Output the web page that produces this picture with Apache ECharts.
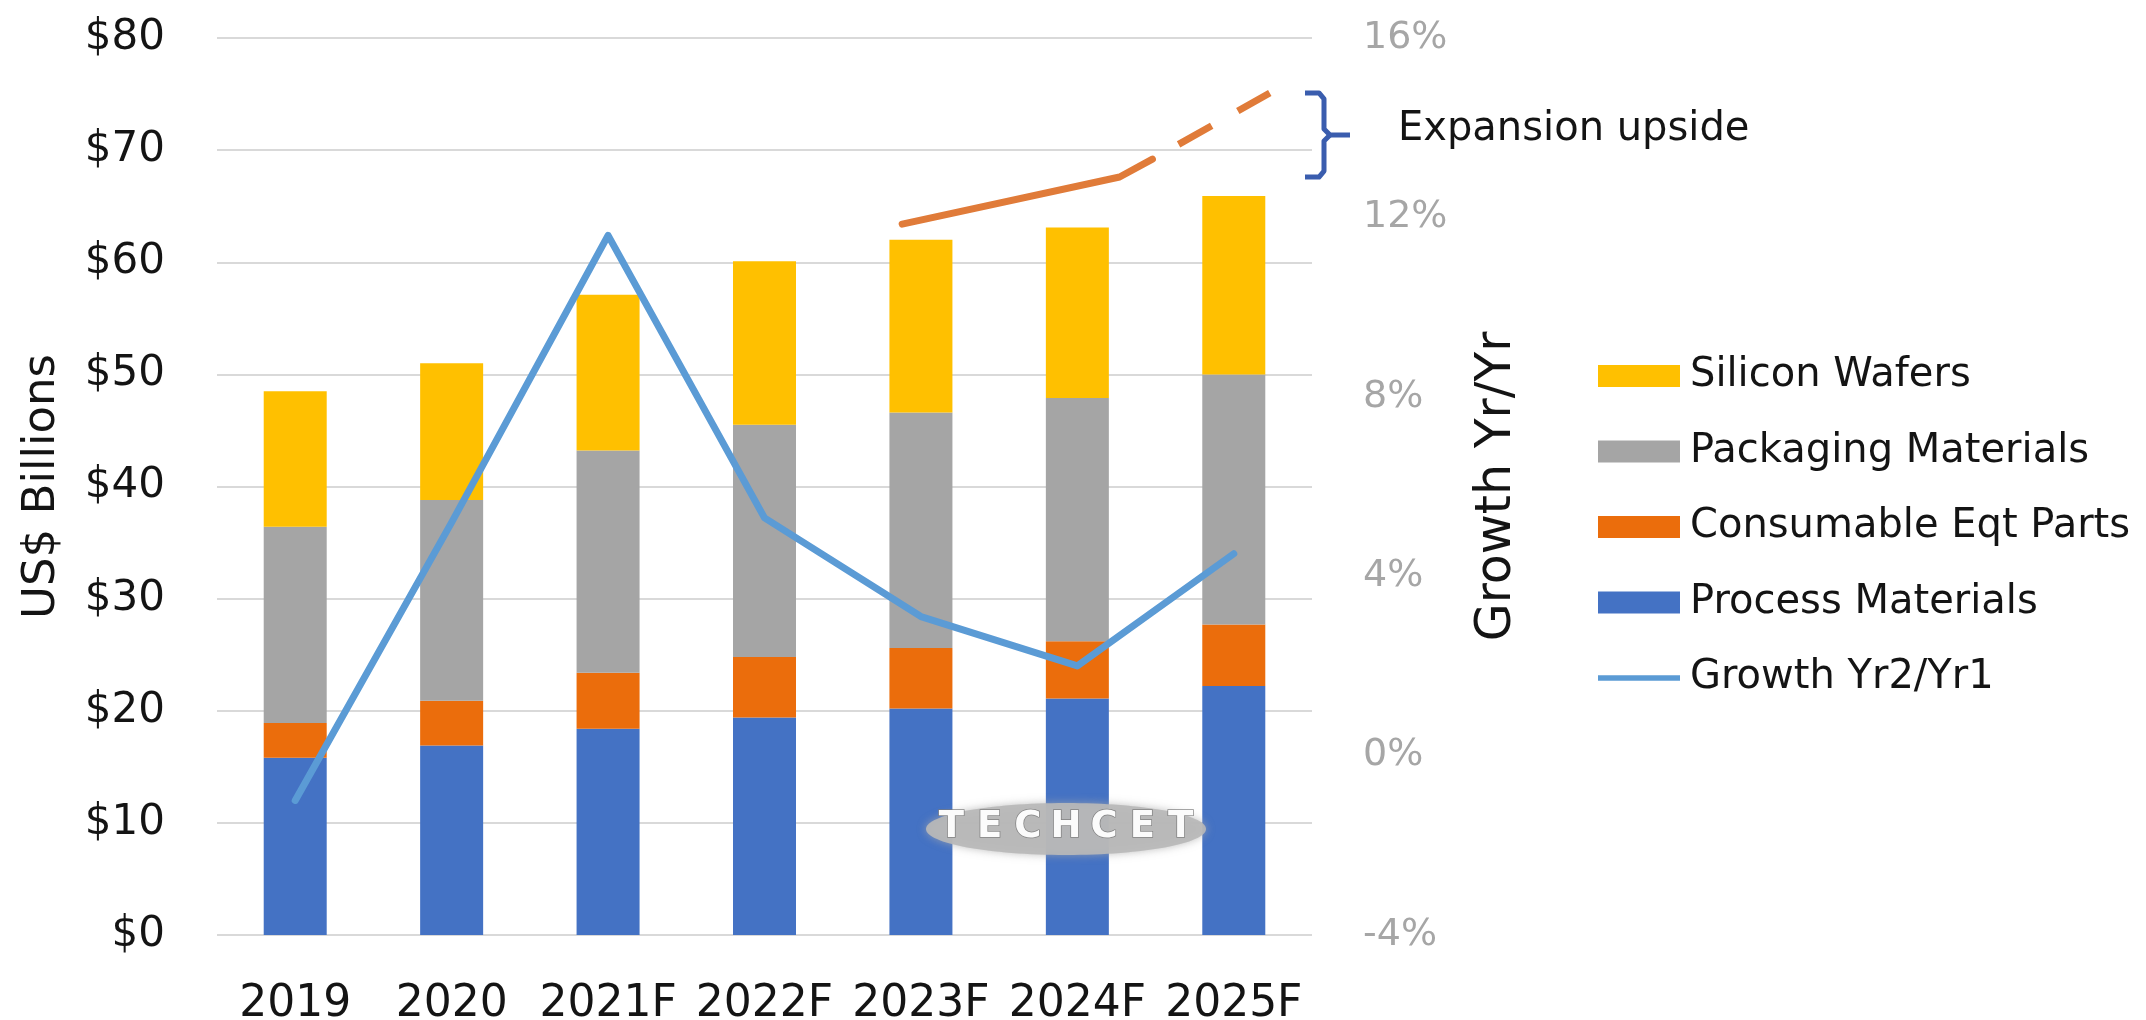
<!DOCTYPE html>
<html>
<head>
<meta charset="utf-8">
<title>Semiconductor Materials Market</title>
<script src="https://cdn.jsdelivr.net/npm/echarts@6/dist/echarts.min.js"></script>
<style>
  html, body { margin: 0; padding: 0; background: #ffffff; }
  #chart { width: 2146px; height: 1020px; }
</style>
</head>
<body>
<div id="chart"></div>
<script>
// Market segments, US$ billions per year (stacked bottom to top)
const years = ['2019', '2020', '2021F', '2022F', '2023F', '2024F', '2025F'];
const processMaterials   = [15.8, 16.9, 18.4, 19.4, 20.2, 21.1, 22.2];
const consumableParts    = [3.1, 4.0, 5.0, 5.4, 5.4, 5.1, 5.5];
const packagingMaterials = [17.5, 17.9, 19.8, 20.7, 21.0, 21.7, 22.3];
const siliconWafers      = [12.1, 12.2, 13.9, 14.6, 15.4, 15.2, 15.9];

// Year-over-year growth, percent (right axis)
const growthPct = [-1.0, 5.2, 11.6, 5.3, 3.1, 2.0, 4.5];

// Expansion upside outlook: [category position, US$ billions]
const upsideBase    = [[3.88, 63.4], [5.27, 67.6], [5.48, 69.2]];
const upsideStretch = [[5.48, 69.2], [6.23, 75.1]];

const legendNames = ['Silicon Wafers', 'Packaging Materials', 'Consumable Eqt Parts', 'Process Materials', 'Growth Yr2/Yr1'];

const FONT = '"DejaVu Sans", "Liberation Sans", sans-serif';
const GRID = { left: 217, right: 834, top: 38, bottom: 85 };
const plotRight = 2146 - GRID.right;

const chart = echarts.init(document.getElementById('chart'), null, { renderer: 'canvas' });

const barSeries = (name, data, color) => ({
  name, type: 'bar', stack: 'total', data,
  barWidth: 63,
  xAxisIndex: 0, yAxisIndex: 0,
  itemStyle: { color },
  emphasis: { disabled: true }
});

// thick line swatch for the growth entry in the legend
const lineIcon = 'path://M0,0 L100,0 L100,7 L0,7 Z';

const option = {
  animation: false,
  backgroundColor: '#ffffff',
  textStyle: { fontFamily: FONT },
  grid: Object.assign({ containLabel: false, outerBoundsMode: 'none' }, GRID),
  legend: {
    orient: 'vertical',
    left: 1593,
    top: 349,
    itemWidth: 82,
    itemHeight: 22,
    itemGap: 31.5,
    selectedMode: false,
    textStyle: { fontSize: 40, lineHeight: 44, color: '#141414', fontFamily: FONT, padding: [0, 0, 0, 5] },
    data: legendNames.map((n, i) => (i < 4 ? { name: n, icon: 'rect' } : { name: n, icon: lineIcon }))
  },
  xAxis: [
    {
      type: 'category',
      data: years,
      axisLine: { show: false },
      axisTick: { show: false },
      axisLabel: { interval: 0, fontSize: 44, color: '#141414', margin: 48, fontFamily: FONT }
    },
    { type: 'value', min: -0.5, max: 6.5, show: false }
  ],
  yAxis: [
    {
      type: 'value',
      min: 0, max: 80, interval: 10,
      name: 'US$ Billions',
      nameLocation: 'middle',
      nameGap: 152,
      nameRotate: 90,
      nameMoveOverlap: false,
      nameTextStyle: { fontSize: 45, color: '#141414', fontFamily: FONT },
      axisLine: { show: false },
      axisTick: { show: false },
      axisLabel: { formatter: v => '$' + v, fontSize: 42, color: '#141414', margin: 52, fontFamily: FONT },
      splitLine: { show: true, lineStyle: { color: '#d9d9d9', width: 2 } }
    },
    {
      type: 'value',
      position: 'right',
      min: -4, max: 16, interval: 4,
      name: 'Growth Yr/Yr',
      nameLocation: 'middle',
      nameGap: 161,
      nameRotate: 90,
      nameMoveOverlap: false,
      nameTextStyle: { fontSize: 49, color: '#141414', fontFamily: FONT },
      axisLine: { show: false },
      axisTick: { show: false },
      axisLabel: { formatter: v => v + '%', fontSize: 38, color: '#a6a6a6', margin: 51, fontFamily: FONT },
      splitLine: { show: false }
    }
  ],
  series: [
    barSeries('Process Materials', processMaterials, '#4472C4'),
    barSeries('Consumable Eqt Parts', consumableParts, '#EB6D0C'),
    barSeries('Packaging Materials', packagingMaterials, '#A5A5A5'),
    barSeries('Silicon Wafers', siliconWafers, '#FFC000'),
    {
      name: 'Growth Yr2/Yr1', type: 'line', data: growthPct,
      xAxisIndex: 0, yAxisIndex: 1,
      symbol: 'none',
      z: 5,
      lineStyle: { color: '#5B9BD5', width: 7, cap: 'round', join: 'round' },
      itemStyle: { color: '#5B9BD5' },
      emphasis: { disabled: true }
    },
    {
      name: 'Upside base', type: 'line', data: upsideBase,
      xAxisIndex: 1, yAxisIndex: 0,
      symbol: 'none', silent: true, z: 6,
      lineStyle: { color: '#E07B39', width: 7, cap: 'round', join: 'round' }
    },
    {
      name: 'Upside stretch', type: 'line', data: upsideStretch,
      xAxisIndex: 1, yAxisIndex: 0,
      symbol: 'none', silent: true, z: 6,
      lineStyle: { color: '#E07B39', width: 7, type: [38, 30], dashOffset: 38, cap: 'butt' }
    }
  ]
};

chart.setOption(option);

// Bracket spanning the upside range, with its caption
const upsideSeriesIndex = 5;
const yTop = chart.convertToPixel({ seriesIndex: upsideSeriesIndex }, [6.5, upsideStretch[upsideStretch.length - 1][1]])[1];
const yBot = chart.convertToPixel({ seriesIndex: upsideSeriesIndex }, [6.5, upsideBase[1][1]])[1];
const yMid = (yTop + yBot) / 2;
const xl = plotRight - 7, xs = plotRight + 12, xt = plotRight + 38;
const bracketStyle = { stroke: '#3A5DAE', lineWidth: 5, fill: null, lineJoin: 'round', lineCap: 'butt' };

// Watermark logo
const logoLetters = 'TECHCET'.split('');
const logoCx = 1066, logoCy = 829, logoPitch = 38.2;

chart.setOption({
  graphic: [
    {
      type: 'polyline', z: 50, silent: true,
      shape: { points: [[xl, yTop], [xs - 5, yTop], [xs, yTop + 6], [xs, yMid - 6], [xs + 6, yMid], [xt, yMid]] },
      style: bracketStyle
    },
    {
      type: 'polyline', z: 50, silent: true,
      shape: { points: [[xs + 6, yMid], [xs, yMid + 6], [xs, yBot - 6], [xs - 5, yBot], [xl, yBot]] },
      style: bracketStyle
    },
    {
      type: 'text', z: 50, silent: true,
      x: plotRight + 86, y: yMid - 5,
      style: { text: 'Expansion upside', font: '40px ' + FONT, fill: '#141414', textVerticalAlign: 'middle', textAlign: 'left' }
    },
    {
      type: 'group', z: 60, silent: true,
      children: [
        {
          type: 'ellipse', z: 60,
          shape: { cx: logoCx, cy: logoCy, rx: 140, ry: 26 },
          style: { fill: 'rgba(185,185,185,0.92)', shadowBlur: 8, shadowColor: 'rgba(170,170,170,0.8)' }
        }
      ].concat(logoLetters.map((ch, i) => ({
        type: 'text', z: 61,
        x: logoCx + (i - 3) * logoPitch,
        y: logoCy - 2,
        style: {
          text: ch,
          font: 'bold 37px ' + FONT,
          fill: '#fbfbfb',
          stroke: 'rgba(120,120,120,0.85)',
          lineWidth: 1.5,
          textAlign: 'center',
          textVerticalAlign: 'middle',
          shadowBlur: 4,
          shadowOffsetY: 1,
          shadowColor: 'rgba(90,90,90,0.6)'
        }
      })))
    }
  ]
});
</script>
</body>
</html>
